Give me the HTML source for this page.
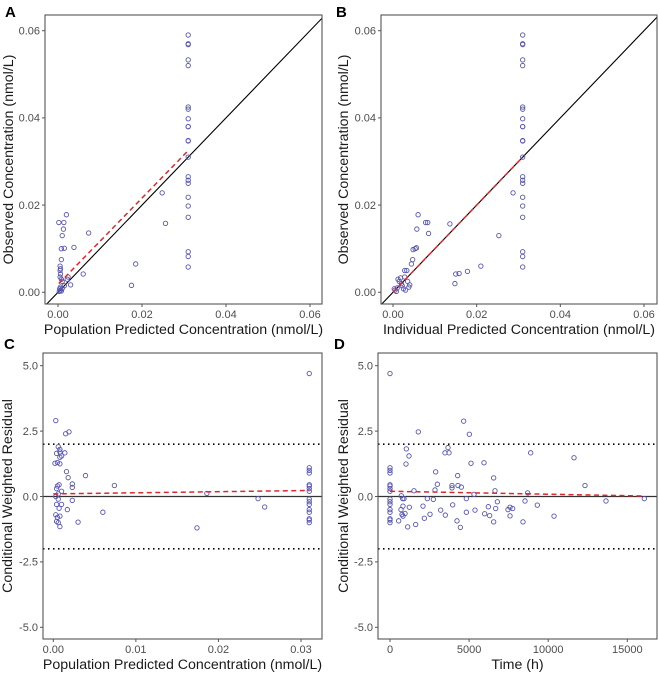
<!DOCTYPE html>
<html><head><meta charset="utf-8"><style>
body{margin:0;background:#fff;}
svg{display:block;font-family:"Liberation Sans",sans-serif;}
.tick{font-size:11px;fill:#4d4d4d;}
.title{font-size:14.2px;fill:#1a1a1a;}
.plab{font-size:15px;font-weight:bold;fill:#000;}
</style></head><body>
<svg id="chart" width="659" height="676"></svg>
<script>
// Panel A: observed vs population predicted
const aX=[0.031,0.031,0.031,0.031,0.031,0.031,0.031,0.031,0.031,0.031,0.031,0.031,0.031,0.031,0.031,0.031,0.031,0.031,0.031,0.031,0.031,0.031,0.0002,0.0014,0.002,0.0013,0.001,0.0008,0.0015,0.0038,0.0073,0.0008,0.0005,0.0006,0.0005,0.0006,0.0005,0.0008,0.001,0.0022,0.0024,0.003,0.0015,0.0006,0.0004,0.0006,0.0008,0.0003,0.001,0.006,0.0175,0.0185,0.0248,0.0256];
const aY=[0.059,0.057,0.0568,0.0533,0.052,0.0425,0.042,0.0398,0.038,0.038,0.0348,0.0347,0.031,0.0265,0.0257,0.025,0.0218,0.0198,0.0172,0.0093,0.0082,0.0058,0.016,0.016,0.0178,0.0145,0.013,0.01,0.0101,0.0103,0.0136,0.0075,0.006,0.0054,0.005,0.0042,0.0035,0.003,0.0025,0.003,0.0035,0.0017,0.0015,0.0012,0.0008,0.0005,0.0003,0.0002,0.0009,0.0042,0.0016,0.0065,0.0228,0.0158];
const aTrendX=[0.0002,0.031], aTrendY=[0.002,0.0325];
// Panel B: observed vs individual predicted
const bX=[0.031,0.031,0.031,0.031,0.031,0.031,0.031,0.031,0.031,0.031,0.031,0.031,0.031,0.031,0.031,0.031,0.031,0.031,0.031,0.031,0.031,0.031,0.006,0.0057,0.0078,0.0083,0.0085,0.0136,0.0048,0.0053,0.0056,0.0047,0.0044,0.0028,0.0033,0.0287,0.0253,0.021,0.0178,0.0158,0.015,0.0148,0.004,0.0038,0.003,0.0025,0.002,0.0015,0.0012,0.0018,0.001,0.0005,0.0008,0.0003,0.0022,0.0035,0.0028];
const bY=[0.059,0.057,0.0568,0.0533,0.052,0.0425,0.042,0.0398,0.038,0.038,0.0348,0.0347,0.031,0.0265,0.0257,0.025,0.0218,0.0198,0.0172,0.0093,0.0082,0.0058,0.0178,0.0145,0.016,0.016,0.0135,0.0157,0.0098,0.01,0.0102,0.0075,0.0065,0.005,0.005,0.0228,0.013,0.006,0.0048,0.0043,0.0042,0.002,0.0017,0.0012,0.0005,0.0008,0.002,0.0025,0.003,0.0033,0.001,0.0005,0.0002,0.0008,0.0015,0.0025,0.0035];
const bTrendX=[0,0.031], bTrendY=[0,0.031];
// Panel C: CWRES vs population predicted
const cX=[0.031,0.031,0.031,0.031,0.031,0.031,0.031,0.031,0.031,0.031,0.031,0.031,0.031,0.031,0.031,0.031,0.0003,0.0015,0.0019,0.0006,0.0008,0.0004,0.0008,0.0014,0.001,0.0008,0.0002,0.0005,0.0008,0.0016,0.0018,0.0039,0.0074,0.0023,0.0023,0.0005,0.0007,0.0004,0.001,0.0006,0.0003,0.0006,0.0023,0.001,0.0004,0.0007,0.0017,0.006,0.0003,0.0008,0.0005,0.0004,0.0006,0.0008,0.003,0.0174,0.0186,0.0248,0.0256];
const cY=[4.7,1.1,1.0,0.9,0.45,0.4,0.3,0.2,-0.1,-0.2,-0.3,-0.5,-0.6,-0.85,-0.9,-1.0,2.9,2.4,2.47,1.9,1.8,1.65,1.7,1.67,1.55,1.5,1.27,1.3,1.25,0.95,0.72,0.8,0.42,0.48,0.35,0.4,0.45,0.3,0.2,0.1,0,-0.1,-0.15,-0.3,-0.3,-0.45,-0.5,-0.6,-0.7,-0.75,-0.8,-0.95,-1.0,-1.15,-0.98,-1.2,0.12,-0.08,-0.4];
const cTrendX=[0,0.031], cTrendY=[0.1,0.23];
// Panel D: CWRES vs time
const dX=[0,0,0,0,0,0,0,0,0,0,0,0,0,0,0,0,1790,4656,5015,1032,1200,1011,3477,3730,3666,5120,5942,8892,11631,12326,2887,2992,2845,4277,3919,3919,4298,4509,6553,6637,5310,8702,1517,716,800,885,2360,2739,4825,6785,8533,9313,13653,16077,821,1222,2086,3203,3961,3497,2528,2170,695,758,821,948,548,1117,1622,4235,4446,4825,5373,5984,6216,6300,6553,6680,7459,7586,7754,7586,8408,10368];
const dY=[4.7,1.1,1.0,0.9,0.45,0.4,0.3,0.2,-0.1,-0.2,-0.3,-0.5,-0.6,-0.85,-0.9,-1.0,2.47,2.88,2.38,1.82,1.55,1.24,1.67,1.67,1.87,1.27,1.29,1.67,1.48,0.42,0.94,0.47,0.25,0.8,0.42,0.33,0.42,0.36,0.71,0.22,0.08,0.14,0.22,0.03,-0.08,-0.08,-0.08,-0.11,-0.08,-0.2,-0.17,-0.33,-0.17,-0.08,-0.37,-0.41,-0.37,-0.52,-0.32,-0.71,-0.68,-0.83,-0.5,-0.69,-0.75,-0.65,-0.93,-1.16,-1.07,-0.93,-1.18,-0.6,-0.52,-0.66,-0.39,-0.73,-0.97,-0.46,-0.5,-0.41,-0.46,-0.74,-0.97,-0.75];
const dTrendX=[0,16000], dTrendY=[0.2,0.02];
const concTicks=[0,0.02,0.04,0.06], concTickLabels=["0.00","0.02","0.04","0.06"];
const cxTicks=[0,0.01,0.02,0.03], cxTickLabels=["0.00","0.01","0.02","0.03"];
const resTicks=[-5,-2.5,0,2.5,5], resTickLabels=["-5.0","-2.5","0.0","2.5","5.0"];
const timeTicks=[0,5000,10000,15000], timeTickLabels=["0","5000","10000","15000"];

const NS="http://www.w3.org/2000/svg";
const svg=document.getElementById('chart');
function mk(tag,attrs,parent){const e=document.createElementNS(NS,tag);for(const k in attrs)e.setAttribute(k,attrs[k]);(parent||svg).appendChild(e);return e;}
let clipId=0;
function panel(p){
  const g=mk('g',{});
  
  
  const sx=v=>p.px0+(v-p.xd0)/(p.xd1-p.xd0)*(p.px1-p.px0);
  const sy=v=>p.py0+(v-p.yd0)/(p.yd1-p.yd0)*(p.py1-p.py0);
  const id='clip'+(clipId++);
  const cp=mk('clipPath',{id:id},g);mk('rect',{x:p.L,y:p.T,width:p.R-p.L,height:p.B-p.T},cp);
  const inner=mk('g',{'clip-path':'url(#'+id+')'},g);
  if(p.identity){const l=mk('line',{x1:sx(-0.01),y1:sy(-0.01),x2:sx(0.08),y2:sy(0.08),stroke:'#000','stroke-width':1.1},inner);
    }
  if(p.ref){
    [2,-2].forEach(v=>{const l=mk('line',{x1:p.L,x2:p.R,y1:sy(v),y2:sy(v),stroke:'#000','stroke-width':1.6,'stroke-dasharray':'1.5 3.5'},inner);
      });
    const z=mk('line',{x1:p.L,x2:p.R,y1:sy(0),y2:sy(0),stroke:'#333','stroke-width':1.3},inner);
    
  }
  for(let i=0;i<p.xs.length;i++){
    const c=mk('circle',{cx:sx(p.xs[i]),cy:sy(p.ys[i]),r:2.2,fill:'none',stroke:'#5656b0','stroke-width':0.9},inner);
    
    
  }
  const t=mk('line',{x1:sx(p.tx[0]),y1:sy(p.ty[0]),x2:sx(p.tx[1]),y2:sy(p.ty[1]),stroke:'#e0262b','stroke-width':1.5,'stroke-dasharray':'5 3.5'},inner);
  
  const fr=mk('rect',{x:p.L,y:p.T,width:p.R-p.L,height:p.B-p.T,fill:'none',stroke:'#555','stroke-width':1.1},g);
  
  p.xt.forEach((v,i)=>{const x=sx(v);mk('line',{x1:x,x2:x,y1:p.B,y2:p.B+3,stroke:'#555'},g);
    const tx=mk('text',{x:x,y:p.B+14,'text-anchor':'middle',class:'tick'},g);tx.textContent=p.xl[i];
    });
  p.yt.forEach((v,i)=>{const y=sy(v);mk('line',{x1:p.L-3,x2:p.L,y1:y,y2:y,stroke:'#555'},g);
    const tx=mk('text',{x:p.L-5,y:y+3.8,'text-anchor':'end',class:'tick'},g);tx.textContent=p.yl[i];
    });
  const xtT=mk('text',{x:(p.L+p.R)/2,y:p.B+30,'text-anchor':'middle',class:'title'},g);xtT.textContent=p.xtitle;
  
  const ytT=mk('text',{x:0,y:0,'text-anchor':'middle',class:'title',transform:'translate('+p.ytx+','+((p.T+p.B)/2)+') rotate(-90)'},g);ytT.textContent=p.ytitle;
  
  const pl=mk('text',{x:p.labx,y:p.laby,class:'plab'},g);pl.textContent=p.key;
  
}
panel({key:'A',L:45,R:322,T:15,B:304,xd0:0,xd1:0.06,px0:58,px1:310,yd0:0,yd1:0.06,py0:292.3,py1:30.7,
  xs:aX,ys:aY,tx:aTrendX,ty:aTrendY,identity:true,xt:concTicks,xl:concTickLabels,yt:concTicks,yl:concTickLabels,
  xtitle:'Population Predicted Concentration (nmol/L)',ytitle:'Observed Concentration (nmol/L)',ytx:13,labx:5,laby:17});
panel({key:'B',L:381,R:657,T:15,B:304,xd0:0,xd1:0.06,px0:393,px1:644,yd0:0,yd1:0.06,py0:292.3,py1:30.7,
  xs:bX,ys:bY,tx:bTrendX,ty:bTrendY,identity:true,xt:concTicks,xl:concTickLabels,yt:concTicks,yl:concTickLabels,
  xtitle:'Individual Predicted Concentration (nmol/L)',ytitle:'Observed Concentration (nmol/L)',ytx:348,labx:336,laby:17});
panel({key:'C',L:43,R:322,T:353,B:639,xd0:0,xd1:0.03,px0:53.3,px1:301,yd0:-5,yd1:5,py0:627.3,py1:365.7,
  xs:cX,ys:cY,tx:cTrendX,ty:cTrendY,ref:true,xt:cxTicks,xl:cxTickLabels,yt:resTicks,yl:resTickLabels,
  xtitle:'Population Predicted Concentration (nmol/L)',ytitle:'Conditional Weighted Residual',ytx:12,labx:4,laby:349});
panel({key:'D',L:378,R:657,T:353,B:639,xd0:0,xd1:15000,px0:390,px1:627.3,yd0:-5,yd1:5,py0:627.3,py1:365.7,
  xs:dX,ys:dY,tx:dTrendX,ty:dTrendY,ref:true,xt:timeTicks,xl:timeTickLabels,yt:resTicks,yl:resTickLabels,
  xtitle:'Time (h)',ytitle:'Conditional Weighted Residual',ytx:348,labx:334,laby:349});
</script>
</body></html>
